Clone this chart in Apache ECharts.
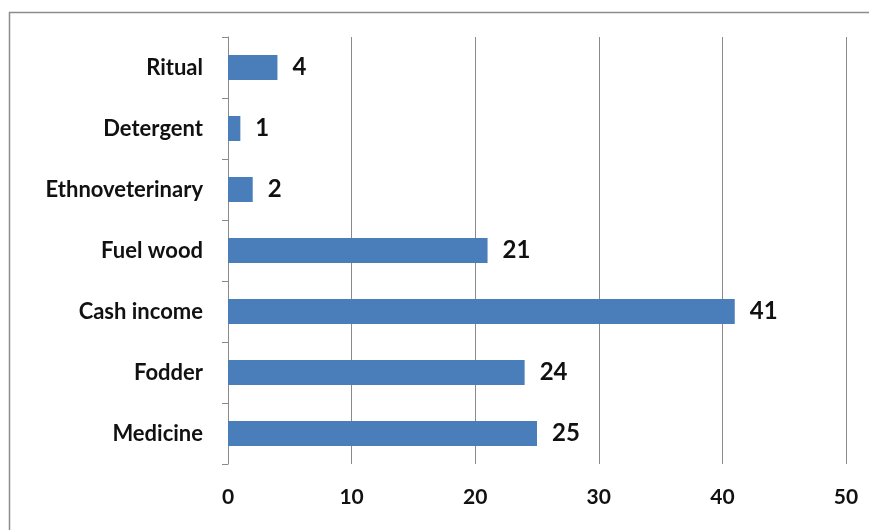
<!DOCTYPE html>
<html><head><meta charset="utf-8">
<script src="https://cdn.jsdelivr.net/npm/echarts@6/dist/echarts.min.js"></script>
<style>html,body{margin:0;padding:0;background:#fff}#c{width:869px;height:530px}</style>
</head><body><div id="c"></div>
<script>
const categories = ["Medicine", "Fodder", "Cash income", "Fuel wood", "Ethnoveterinary", "Detergent", "Ritual"];
const values = [25, 24, 41, 21, 2, 1, 4];
const xTicks = [0, 10, 20, 30, 40, 50];

const chart = echarts.init(document.getElementById('c'));
chart.setOption({
  animation: false,
  graphic: [{type: 'rect', shape: {x: 9.5, y: 12.5, width: 900, height: 600}, style: {fill: 'none', stroke: '#8c8c8c', lineWidth: 1.5}, silent: true}],
  grid: {left: 228, right: 23, top: 37, bottom: 66, containLabel: false},
  xAxis: {
    type: 'value', min: xTicks[0], max: xTicks[xTicks.length - 1], interval: 10,
    axisLine: {show: false}, axisTick: {show: false},
    splitLine: {lineStyle: {color: '#8a8a8a', width: 1}},
    axisLabel: {color: '#111', fontFamily: 'Lato', fontWeight: 'bold', fontSize: 21, margin: 23}
  },
  yAxis: {
    type: 'category', data: categories,
    axisLine: {lineStyle: {color: '#8a8a8a', width: 1}},
    axisTick: {show: true, length: 6, lineStyle: {color: '#8a8a8a'}},
    axisLabel: {color: '#111', fontFamily: 'Lato', fontWeight: 'bold', fontSize: 22, margin: 25}
  },
  series: [{
    type: 'bar', data: values, barWidth: 25,
    itemStyle: {color: '#4a7ebb'},
    label: {show: true, position: 'right', distance: 15, color: '#111', fontFamily: 'Lato', fontWeight: 'bold', fontSize: 24}
  }]
});
</script></body></html>
